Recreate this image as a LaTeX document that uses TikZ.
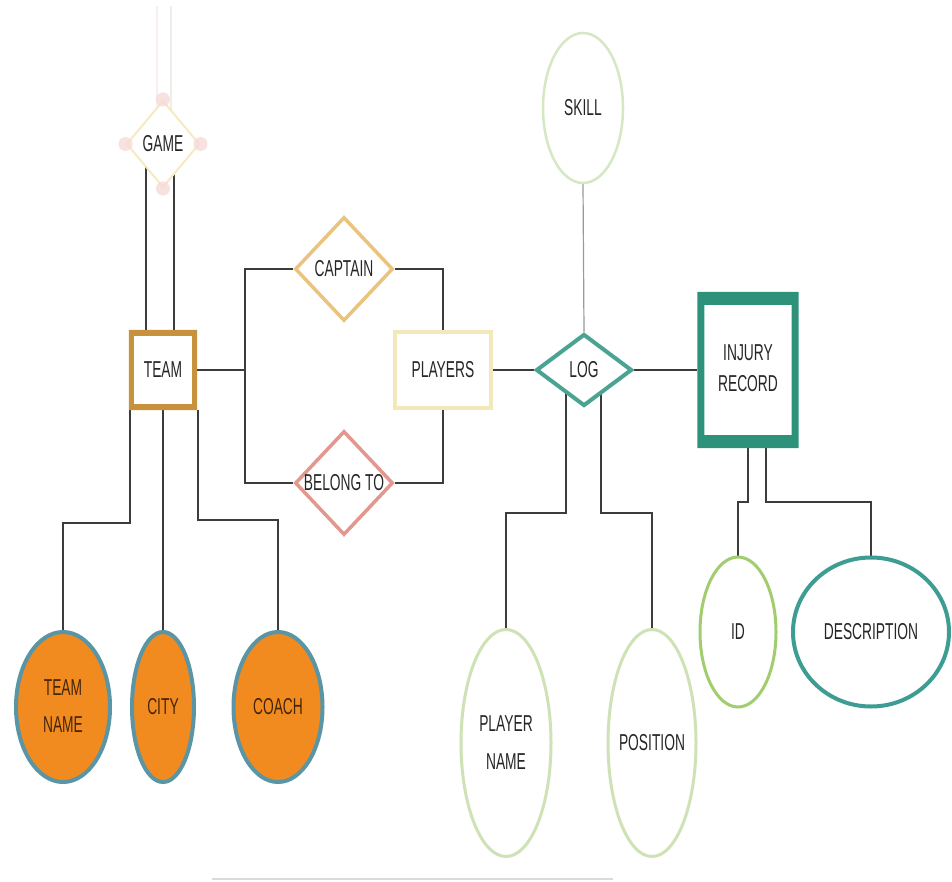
\documentclass[tikz,border=0pt]{standalone}
\usepackage{fontspec}
\setmainfont{Liberation Sans}[FakeStretch=0.6]
\usetikzlibrary{shapes.geometric,backgrounds}
\definecolor{teamc}{HTML}{C8913B}
\definecolor{captc}{HTML}{EAC47E}
\definecolor{playc}{HTML}{F2E8B8}
\definecolor{belc}{HTML}{E2978F}
\definecolor{logc}{HTML}{4AA393}
\definecolor{injc}{HTML}{2E9179}
\definecolor{skillc}{HTML}{D6E7C4}
\definecolor{pnc}{HTML}{CEE2B6}
\definecolor{idc}{HTML}{A2CD6F}
\definecolor{descc}{HTML}{3E9D92}
\definecolor{orangef}{HTML}{F28B1F}
\definecolor{orangeb}{HTML}{5A95A6}
\definecolor{linec}{HTML}{3C3C3C}
\definecolor{gamec}{HTML}{F6EBC0}
\definecolor{pinkc}{HTML}{F6D8D8}
\definecolor{txtc}{HTML}{262626}
\definecolor{otxt}{HTML}{43250A}
\definecolor{faint1}{HTML}{F7EEEE}
\definecolor{faint2}{HTML}{F0EDE8}
\definecolor{bottomc}{HTML}{DADADA}
\newcommand{\oneL}[1]{\makebox[0pt]{#1}}
\newcommand{\twoL}[3]{\makebox[0pt]{\fontsize{23}{#3}\selectfont\begin{tabular}{@{}c@{}}#1\\#2\end{tabular}}}
\begin{document}
\begin{tikzpicture}[x=1pt,y=-1pt,
  every node/.style={inner sep=0pt, font=\fontsize{23}{27}\selectfont, text=txtc},
  ent/.style={rectangle, fill=white},
  rel/.style={diamond, draw, fill=white},
  attr/.style={ellipse, draw, fill=white},
  orattr/.style={ellipse, draw=orangeb, fill=orangef, line width=4pt, text=otxt},
  conn/.style={draw=linec, line width=1.5pt},
  lconn/.style={draw=gray!80, line width=1.2pt}]
\useasboundingbox (0,0) rectangle (952,882);

% entities
\node[ent, minimum width=68pt, minimum height=80pt] (team) at (163,370) {\oneL{TEAM}};
\fill[teamc, even odd rule] (team.north west) rectangle (team.south east)
  ([xshift=5pt,yshift=-6pt]team.north west) rectangle ([xshift=-5pt,yshift=6pt]team.south east);
\node[ent, draw=playc, line width=4pt, minimum width=96pt, minimum height=76pt] (players) at (443,370) {\oneL{PLAYERS}};
\node[ent, minimum width=101pt, minimum height=156pt] (injury) at (748,370) {\twoL{INJURY}{RECORD}{31pt}};
\fill[injc, even odd rule] (injury.north west) rectangle (injury.south east)
  ([xshift=7pt,yshift=-13pt]injury.north west) rectangle ([xshift=-7pt,yshift=13pt]injury.south east);

% relationships
\node[rel, draw=gamec, line width=2pt, minimum width=73pt, minimum height=87pt] (game) at (163,144) {\oneL{GAME}};
\foreach \a in {north,south,east,west} \fill[pinkc, opacity=.75] (game.\a) circle (7);
\node[rel, draw=captc, line width=3.5pt, minimum width=98pt, minimum height=104pt] (captain) at (344,269) {\oneL{CAPTAIN}};
\node[rel, draw=belc, line width=3.5pt, minimum width=98pt, minimum height=104pt] (belong) at (344,483) {\oneL{BELONG TO}};
\node[rel, draw=logc, line width=4pt, minimum width=96pt, minimum height=72pt] (log) at (584,370) {\oneL{LOG}};

% attributes
\node[attr, draw=skillc, line width=2.5pt, minimum width=80pt, minimum height=150pt] (skill) at (583,108) {\oneL{SKILL}};
\node[attr, draw=pnc, line width=3pt, minimum width=90pt, minimum height=227pt] (pname) at (506,743) {\twoL{PLAYER}{NAME}{38pt}};
\node[attr, draw=pnc, line width=3pt, minimum width=88pt, minimum height=227pt] (position) at (652,743) {\oneL{POSITION}};
\node[attr, draw=idc, line width=3pt, minimum width=76pt, minimum height=150pt] (id) at (738,632) {\oneL{ID}};
\node[attr, draw=descc, line width=4pt, minimum width=156pt, minimum height=149pt] (desc) at (871,632) {\oneL{DESCRIPTION}};
\node[orattr, minimum width=94pt, minimum height=150pt] (tname) at (63,707) {\twoL{TEAM}{NAME}{37pt}};
\node[orattr, minimum width=62pt, minimum height=150pt] (city) at (163,707) {\oneL{CITY}};
\node[orattr, minimum width=89pt, minimum height=150pt] (coach) at (278,707) {\oneL{COACH}};

\coordinate (j1) at (245,370);
\coordinate (f1) at (157,6);
\coordinate (f2) at (171,6);
\coordinate (b1) at (212,879);
\coordinate (b2) at (613,879);

\begin{scope}[on background layer]
  \fill[white] (0,0) rectangle (952,882);
  \draw[draw=faint1, line width=2.5pt] (f1) -- ([xshift=-6pt]game.center);
  \draw[draw=faint2, line width=2pt] (f2) -- ([xshift=8pt]game.center);
  \draw[conn] ([xshift=-17pt]team.north) -- ([xshift=-17pt]game.center);
  \draw[conn] ([xshift=11pt]team.north) -- ([xshift=11pt]game.center);
  \draw[conn] (team.east) -- (j1);
  \draw[conn] (captain.west) -| (j1) |- (belong.west);
  \draw[conn] (captain.east) -| (players.north);
  \draw[conn] (belong.east) -| (players.south);
  \draw[conn] (players.east) -- (log.west);
  \draw[conn] (log.east) -- (injury.west);
  \draw[lconn] (skill.south) -- (log.north);
  \draw[conn] ([xshift=-18pt]log.center) -- ++(0,143) -| (pname.north);
  \draw[conn] ([xshift=17pt]log.center) -- ++(0,143) -| (position.north);
  \draw[conn] (injury.south) -- ++(0,54) -| (id.north);
  \draw[conn] ([xshift=18pt]injury.south) -- ++(0,54) -| (desc.north);
  \draw[conn] ([xshift=-33pt]team.south) -- ++(0,113) -| (tname.north);
  \draw[conn] (team.south) -- (city.north);
  \draw[conn] ([xshift=35pt]team.south) -- ++(0,110) -| (coach.north);
  \draw[draw=bottomc, line width=2pt] (b1) -- (b2);
\end{scope}
\end{tikzpicture}
\end{document}
